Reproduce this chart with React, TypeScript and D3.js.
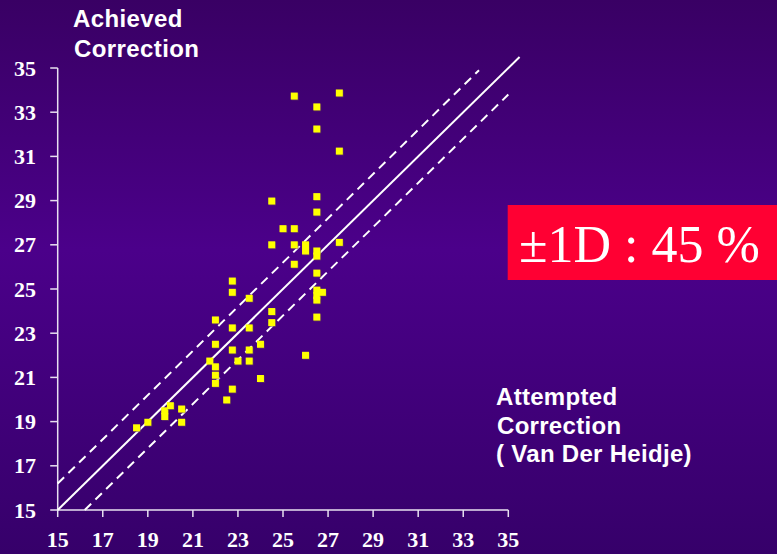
import React from "react";
import * as d3 from "d3";

const attempted = [
  18.5, 19.0, 19.75, 19.75, 20.0, 20.5, 20.5, 21.75, 22.0, 22.0, 22.0, 22.0, 22.0,
  22.5, 22.75, 22.75, 22.75, 22.75, 22.75, 23.0, 23.5, 23.5, 23.5, 23.5, 24.0, 24.0,
  24.5, 24.5, 24.5, 24.5, 25.0, 25.5, 25.5, 25.5, 25.5, 26.0, 26.0, 26.0,
  26.5, 26.5, 26.5, 26.5, 26.5, 26.5, 26.5, 26.5, 26.5, 26.5, 26.75, 26.5,
  27.5, 27.5, 27.5,
];
const achieved = [
  18.72, 18.97, 19.49, 19.23, 19.72, 19.57, 18.97, 21.74, 23.6, 22.5, 21.48, 21.1, 20.73,
  19.98, 20.47, 25.36, 24.85, 23.24, 22.24, 21.74, 24.58, 23.24, 22.24, 21.74, 22.5, 20.95,
  28.98, 27.0, 23.98, 23.48, 27.73, 33.73, 27.73, 27.0, 26.12, 27.0, 26.72, 22.0,
  33.24, 32.24, 29.18, 28.48, 26.72, 26.49, 25.72, 24.95, 24.7, 24.5, 24.85, 23.73,
  33.87, 31.24, 27.11,
];
const xTicks = [15, 17, 19, 21, 23, 25, 27, 29, 31, 33, 35];
const yTicks = [15, 17, 19, 21, 23, 25, 27, 29, 31, 33, 35];
const band = 1.2;

const W = 777;
const H = 554;

export default function App() {
  const x = d3.scaleLinear().domain([15, 35]).range([57.7, 508.3]);
  const y = d3.scaleLinear().domain([15, 35]).range([510, 68]);
  const sq = 7;
  const serif = "'Liberation Serif', 'Times New Roman', serif";
  const sans = "'Liberation Sans', Arial, sans-serif";
  return (
    <svg
      width={W}
      height={H}
      style={{ position: "absolute", left: 0, top: 0 }}
      xmlns="http://www.w3.org/2000/svg"
    >
      <defs>
        <linearGradient id="bg" x1="0" y1="0" x2="0" y2="1">
          <stop offset="0%" stopColor="#390064" />
          <stop offset="45%" stopColor="#4b008a" />
          <stop offset="100%" stopColor="#36006a" />
        </linearGradient>
      </defs>
      <rect x={0} y={0} width={W} height={H} fill="url(#bg)" />

      {/* axes */}
      <line x1={x(15)} x2={x(15)} y1={y(35)} y2={y(15)} stroke="#e8e0f0" strokeWidth={1.5} />
      <line x1={x(15)} x2={x(35)} y1={y(15)} y2={y(15)} stroke="#e8e0f0" strokeWidth={1.5} />
      {yTicks.map((t) => (
        <g key={"y" + t}>
          <line x1={x(15) - 7.5} x2={x(15)} y1={y(t)} y2={y(t)} stroke="#e8e0f0" strokeWidth={1.5} />
          <text
            x={36}
            y={y(t) + 7.5}
            textAnchor="end"
            fill="#ffffff"
            fontFamily={serif}
            fontWeight="bold"
            fontSize={22}
          >
            {t}
          </text>
        </g>
      ))}
      {xTicks.map((t) => (
        <g key={"x" + t}>
          <line x1={x(t)} x2={x(t)} y1={y(15)} y2={y(15) + 7} stroke="#e8e0f0" strokeWidth={1.5} />
          <text
            x={x(t)}
            y={546.5}
            textAnchor="middle"
            fill="#ffffff"
            fontFamily={serif}
            fontWeight="bold"
            fontSize={22}
          >
            {t}
          </text>
        </g>
      ))}

      {/* reference lines */}
      <line x1={x(15)} y1={y(15)} x2={x(35.5)} y2={y(35.5)} stroke="#ffffff" strokeWidth={2} />
      <line
        x1={x(15)}
        y1={y(15 + band)}
        x2={x(35 - band - 0.1)}
        y2={y(34.9)}
        stroke="#ffffff"
        strokeWidth={2}
        strokeDasharray="9,6"
      />
      <line
        x1={x(15 + band)}
        y1={y(15)}
        x2={x(35)}
        y2={y(35 - band)}
        stroke="#ffffff"
        strokeWidth={2}
        strokeDasharray="9,6"
      />

      {/* points */}
      {attempted.map((a, i) => (
        <g key={"p" + i}>
          <rect
            x={x(a) - sq / 2 + 0.8}
            y={y(achieved[i]) - sq / 2 + 0.8}
            width={sq}
            height={sq}
            fill="#6a4a55"
            opacity={0.6}
          />
          <rect
            x={x(a) - sq / 2}
            y={y(achieved[i]) - sq / 2}
            width={sq}
            height={sq}
            fill="#ffff00"
          />
        </g>
      ))}

      {/* axis titles */}
      <text fill="#ffffff" fontFamily={sans} fontWeight="bold" fontSize={24} letterSpacing={0.4}>
        <tspan x={73} y={27}>Achieved</tspan>
        <tspan x={74} y={56.5}>Correction</tspan>
      </text>
      <text fill="#ffffff" fontFamily={sans} fontWeight="bold" fontSize={24} letterSpacing={0.3}>
        <tspan x={496} y={405}>Attempted</tspan>
        <tspan x={497} y={434}>Correction</tspan>
        <tspan x={496} y={462}>( Van Der Heidje)</tspan>
      </text>

      {/* annotation */}
      <rect x={507.7} y={205} width={W - 507.7} height={75} fill="#ff0033" />
      <text x={519} y={261.5} fill="#ffffff" fontFamily={serif} fontSize={52}>
        ±1D : 45 %
      </text>
    </svg>
  );
}
